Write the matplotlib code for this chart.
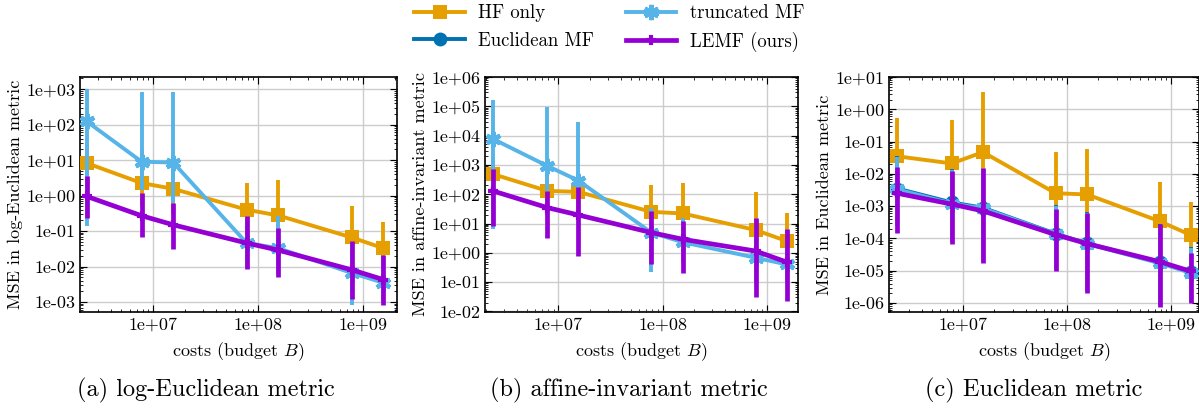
import numpy as np
import matplotlib
matplotlib.use('Agg')
import matplotlib.pyplot as plt
from matplotlib.lines import Line2D
from matplotlib.ticker import LogLocator, FuncFormatter, NullFormatter

# budgets (costs) shared by all panels
costs = [2.34e6, 7.8e6, 1.56e7, 7.8e7, 1.56e8, 7.8e8, 1.56e9]

# (a) log-Euclidean metric
hf_a = [8.2, 2.25, 1.55, 0.40, 0.275, 0.066, 0.033]
hf_a_lo = [2.0, 0.5, 0.3, 0.07, 0.05, 0.01, 0.005]
hf_a_hi = [30, 20, 10, 2.25, 2.7, 0.5, 0.18]
tr_a = [123, 9.0, 8.5, 0.046, 0.033, 0.0066, 0.0035]
tr_a_lo = [0.135, 1.4, 0.63, 0.01, 0.006, 8.5e-4, 0.001]
tr_a_hi = [1000, 850, 850, 0.2, 0.26, 0.04, 0.015]
le_a = [0.95, 0.27, 0.15, 0.046, 0.029, 0.0081, 0.0043]
le_a_lo = [0.23, 0.066, 0.031, 0.0087, 0.0052, 0.0012, 8.5e-4]
le_a_hi = [3.6, 1.2, 0.6, 0.27, 0.12, 0.051, 0.021]

# (b) affine-invariant metric
hf_b = [490, 130, 120, 25, 22, 6.0, 2.5]
hf_b_lo = [60, 20, 20, 3, 2.5, 0.8, 0.3]
hf_b_hi = [1800, 600, 500, 200, 250, 115, 23]
tr_b = [7800, 930, 290, 4.9, 2.3, 0.68, 0.4]
tr_b_lo = [6.3, 130, 100, 0.23, 0.5, 0.1, 0.1]
tr_b_hi = [1.6e5, 9.3e4, 2.9e4, 35, 16, 5, 3]
le_b = [130, 35, 19.5, 4.9, 2.9, 1.15, 0.48]
le_b_lo = [8.1, 3.2, 0.78, 0.4, 0.2, 0.031, 0.022]
le_b_hi = [720, 130, 170, 27, 12, 16, 6.3]

# (c) Euclidean metric
hf_c = [0.035, 0.021, 0.047, 0.0025, 0.0023, 3.4e-4, 1.26e-4]
hf_c_lo = [0.005, 0.003, 0.004, 0.0011, 6.5e-4, 1e-4, 5.3e-5]
hf_c_hi = [0.52, 0.45, 3.5, 0.049, 0.059, 0.0056, 0.00135]
eu_c = [0.0035, 0.0013, 8.9e-4, 1.4e-4, 7e-5, 1.8e-5, 8.9e-6]
eu_c_lo = [2.7e-4, 8e-5, 2e-5, 1.1e-5, 2.5e-6, 8e-7, 1e-6]
eu_c_hi = [0.036, 0.014, 0.014, 0.0011, 6.5e-4, 2.7e-4, 5.5e-5]
tr_c = [0.0033, 0.0012, 8.5e-4, 1.35e-4, 6.8e-5, 1.7e-5, 8.5e-6]
tr_c_lo = [2.5e-4, 7.5e-5, 1.9e-5, 1.05e-5, 2.4e-6, 7.8e-7, 9.8e-7]
tr_c_hi = [0.033, 0.013, 0.013, 0.001, 6e-4, 2.5e-4, 5e-5]
le_c = [0.0025, 0.00115, 7.1e-4, 1.3e-4, 6.9e-5, 1.9e-5, 9.5e-6]
le_c_lo = [1.5e-4, 6.5e-5, 1.7e-5, 9.5e-6, 2.1e-6, 7.4e-7, 1e-6]
le_c_hi = [0.016, 0.0126, 0.015, 8e-4, 6.3e-4, 2.7e-4, 3.5e-5]

ylabels = ['MSE in log-Euclidean metric', 'MSE in affine-invariant metric',
           'MSE in Euclidean metric']
captions = ['(a) log-Euclidean metric', '(b) affine-invariant metric',
            '(c) Euclidean metric']

c_hf = '#E69F00'
c_eu = '#0072B2'
c_tr = '#56B4E9'
c_le = '#9400D3'

plt.rcParams['font.family'] = 'cmr10'
plt.rcParams['mathtext.fontset'] = 'cm'
plt.rcParams['axes.unicode_minus'] = False

fig = plt.figure(figsize=(11.99, 4.09), dpi=100)

# axes positions [left, bottom, width, height] in figure fractions
boxes = [[0.0667, 0.2372, 0.2644, 0.5745],
         [0.4045, 0.2372, 0.2611, 0.5745],
         [0.7415, 0.2372, 0.2585, 0.5745]]
xlims = [(10**6.305, 10**9.324), (10**6.296, 10**9.30), (10**6.29, 10**9.27)]
ylims = [(10**-3.28, 10**3.34), (10**-2.02, 1e6), (10**-6.28, 10**1.0)]
# caption centres (subfigure centres, not axes centres)
cap_x = [206 / 1199, 629 / 1199, 1034 / 1199]

panels = [
    [(hf_a, hf_a_lo, hf_a_hi, 'hf'), (tr_a, tr_a_lo, tr_a_hi, 'tr'),
     (le_a, le_a_lo, le_a_hi, 'le')],
    [(hf_b, hf_b_lo, hf_b_hi, 'hf'), (tr_b, tr_b_lo, tr_b_hi, 'tr'),
     (le_b, le_b_lo, le_b_hi, 'le')],
    [(hf_c, hf_c_lo, hf_c_hi, 'hf'), (eu_c, eu_c_lo, eu_c_hi, 'eu'),
     (tr_c, tr_c_lo, tr_c_hi, 'tr'), (le_c, le_c_lo, le_c_hi, 'le')],
]

style = {
    'hf': dict(color=c_hf, marker='s', ms=10, mew=0, lw=2.8),
    'eu': dict(color=c_eu, marker='o', ms=10, mew=0, lw=2.8),
    'tr': dict(color=c_tr, marker=(6, 2, 0), ms=11, mew=3.2, lw=2.8),
    'le': dict(color=c_le, marker='+', ms=7, mew=3, lw=3.4),
}

fmt = FuncFormatter(lambda v, pos: '%.0e' % v)

for i in range(3):
    ax = fig.add_axes(boxes[i])
    for z, (y, lo, hi, key) in enumerate(panels[i]):
        s = style[key]
        y = np.array(y)
        yerr = [y - np.array(lo), np.array(hi) - y]
        ax.errorbar(costs, y, yerr=yerr, color=s['color'], lw=s['lw'],
                    elinewidth=s['lw'], capsize=0, marker=s['marker'],
                    ms=s['ms'], mew=s['mew'], mec=s['color'], zorder=3 + z)
    ax.set_xscale('log')
    ax.set_yscale('log')
    ax.set_xlim(xlims[i])
    ax.set_ylim(ylims[i])
    ax.yaxis.set_major_locator(LogLocator(base=10, numticks=20))
    ax.yaxis.set_minor_locator(LogLocator(base=10, subs=np.arange(2, 10), numticks=20))
    ax.yaxis.set_major_formatter(fmt)
    ax.yaxis.set_minor_formatter(NullFormatter())
    ax.xaxis.set_major_formatter(fmt)
    ax.xaxis.set_minor_formatter(NullFormatter())
    ax.grid(True, which='major', color='#cccccc', lw=1)
    ax.tick_params(which='both', direction='in', top=True, right=True,
                   labelsize=13)
    ax.tick_params(which='major', length=5)
    ax.tick_params(which='minor', length=2.5)
    ax.set_ylabel(ylabels[i], fontsize=13, labelpad=2)
    ax.set_xlabel('costs (budget $B$)', fontsize=13, labelpad=6)
    for sp in ax.spines.values():
        sp.set_linewidth(1.2)
    fig.text(cap_x[i], 0.045, captions[i], ha='center', va='center', fontsize=17.5)

# legend above the panels
handles = [Line2D([], [], **style[k]) for k in ['hf', 'eu', 'tr', 'le']]
for h in handles:
    h.set_markeredgecolor(h.get_color())
labels = ['HF only', 'Euclidean MF', 'truncated MF', 'LEMF (ours)']
fig.legend(handles, labels, loc='center', bbox_to_anchor=(0.508, 0.931),
           ncol=2, frameon=False, fontsize=13.5, handlelength=2.7,
           handletextpad=0.7, columnspacing=1.7, labelspacing=0.5,
           borderpad=0)

fig.savefig('out.png', dpi=100)
